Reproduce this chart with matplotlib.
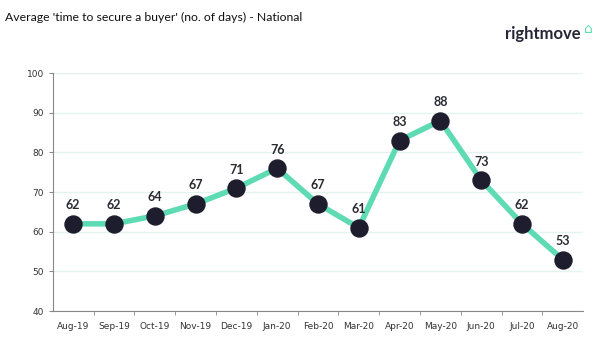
import matplotlib
matplotlib.use("Agg")
import matplotlib.pyplot as plt

months = ["Aug-19", "Sep-19", "Oct-19", "Nov-19", "Dec-19", "Jan-20", "Feb-20",
          "Mar-20", "Apr-20", "May-20", "Jun-20", "Jul-20", "Aug-20"]
days = [62, 62, 64, 67, 71, 76, 67, 61, 83, 88, 73, 62, 53]
y_ticks = [40, 50, 60, 70, 80, 90, 100]

line_color = "#5edbb3"
marker_color = "#1d1d2e"
grid_color = "#e3f3ee"
text_color = "#333333"

fig = plt.figure(figsize=(6, 3.43), dpi=100)
ax = fig.add_axes([0.088, 0.093, 0.884, 0.694])

x = list(range(len(months)))
ax.plot(x, days, color=line_color, lw=4, zorder=2, solid_capstyle="round")
ax.scatter(x, days, s=150, color=marker_color, zorder=3)
for xi, v in zip(x, days):
    ax.annotate(str(v), (xi, v), xytext=(0, 9), textcoords="offset points",
                ha="center", va="bottom", fontsize=9, fontweight="bold",
                color="#2a2a35", family="Lato")

ax.set_xlim(-0.5, len(months) - 0.5)
ax.set_ylim(40, 100)
ax.set_yticks(y_ticks)
ax.set_xticks(x)
ax.set_xticklabels(months)
ax.set_xticks([i - 0.5 for i in range(1, len(months))], minor=True)
ax.tick_params(axis="x", which="major", length=0, labelsize=6.5,
               colors=text_color, pad=8)
ax.tick_params(axis="x", which="minor", length=3, color="#888888")
ax.tick_params(axis="y", length=3, color="#888888", labelsize=6.5,
               labelcolor=text_color)
ax.grid(axis="y", color=grid_color, lw=1)
ax.set_axisbelow(True)
for side in ("top", "right"):
    ax.spines[side].set_visible(False)
for side in ("left", "bottom"):
    ax.spines[side].set_color("#888888")
    ax.spines[side].set_linewidth(0.8)

fig.text(0.008, 0.948, "Average 'time to secure a buyer' (no. of days) - National",
         fontsize=8.8, color="#111111", family="Lato",
         ha="left", va="center")
fig.text(0.967, 0.902, "rightmove", fontsize=12, fontweight="bold",
         color="#262637", family="Lato", ha="right", va="center")
fig.text(0.988, 0.915, "⌂", fontsize=10, color=line_color, ha="right",
         va="center")

fig.savefig("out.png", dpi=100)
